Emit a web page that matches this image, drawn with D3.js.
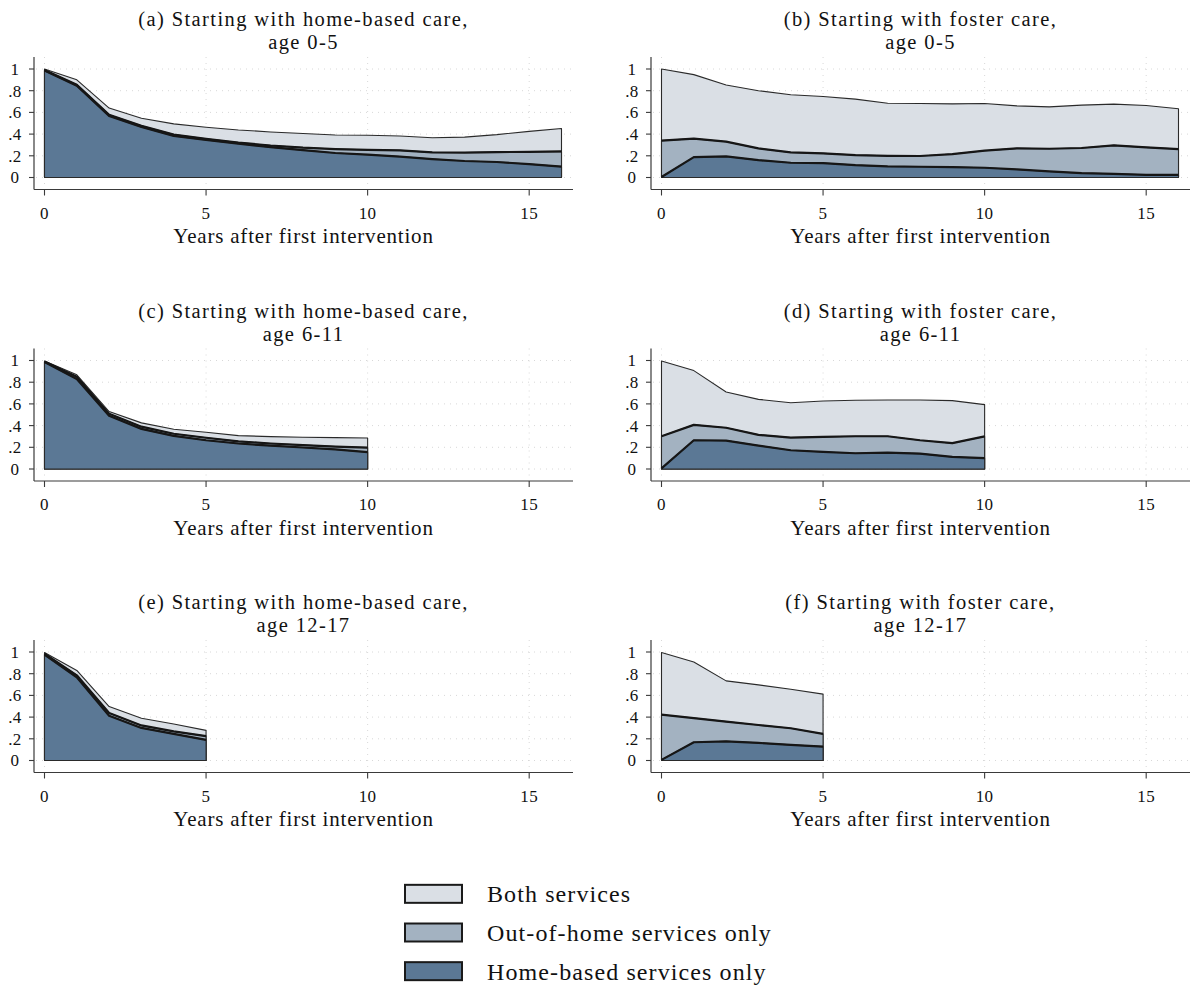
<!DOCTYPE html>
<html>
<head>
<meta charset="utf-8">
<script src="https://cdn.jsdelivr.net/npm/d3@7"></script>
<style>
  html, body { margin: 0; padding: 0; background: #fff; }
  svg { display: block; }
  text { font-family: "Liberation Serif", "Times New Roman", serif; fill: #111; }
</style>
</head>
<body>
<svg id="chart" width="1192" height="985"></svg>
<script>
// Shares of children receiving each type of service, by years after first intervention
const yearsLong = d3.range(0, 17);
const yearsMid = d3.range(0, 11);
const yearsShort = d3.range(0, 6);

// (a) home-based start, age 0-5
const homeA = [0.985, 0.845, 0.568, 0.466, 0.383, 0.346, 0.312, 0.280, 0.252, 0.226, 0.210, 0.193, 0.170, 0.152, 0.143, 0.123, 0.100];
const outA  = [0.005, 0.010, 0.010, 0.010, 0.012, 0.011, 0.010, 0.015, 0.023, 0.036, 0.045, 0.057, 0.062, 0.078, 0.091, 0.114, 0.140];
const bothA = [0.010, 0.045, 0.062, 0.070, 0.099, 0.106, 0.116, 0.125, 0.130, 0.130, 0.135, 0.133, 0.134, 0.142, 0.161, 0.188, 0.212];

// (b) foster care start, age 0-5
const homeB = [0.005, 0.188, 0.194, 0.160, 0.136, 0.133, 0.114, 0.102, 0.099, 0.096, 0.090, 0.074, 0.056, 0.040, 0.034, 0.025, 0.025];
const outB  = [0.335, 0.170, 0.136, 0.108, 0.095, 0.089, 0.093, 0.098, 0.099, 0.120, 0.157, 0.194, 0.209, 0.232, 0.262, 0.253, 0.237];
const bothB = [0.660, 0.590, 0.522, 0.532, 0.531, 0.525, 0.515, 0.485, 0.484, 0.463, 0.435, 0.392, 0.386, 0.395, 0.380, 0.386, 0.371];

// (c) home-based start, age 6-11
const homeC = [0.985, 0.830, 0.490, 0.370, 0.305, 0.265, 0.235, 0.215, 0.198, 0.180, 0.155];
const outC  = [0.005, 0.020, 0.020, 0.020, 0.020, 0.023, 0.020, 0.020, 0.022, 0.027, 0.042];
const bothC = [0.005, 0.018, 0.020, 0.035, 0.041, 0.050, 0.053, 0.063, 0.072, 0.082, 0.089];

// (d) foster care start, age 6-11
const homeD = [0.006, 0.265, 0.262, 0.216, 0.173, 0.157, 0.145, 0.151, 0.142, 0.111, 0.100];
const outD  = [0.296, 0.142, 0.118, 0.099, 0.117, 0.139, 0.157, 0.151, 0.123, 0.127, 0.200];
const bothD = [0.693, 0.500, 0.330, 0.327, 0.321, 0.331, 0.331, 0.334, 0.371, 0.392, 0.293];

// (e) home-based start, age 12-17
const homeE = [0.975, 0.766, 0.413, 0.300, 0.245, 0.190];
const outE  = [0.010, 0.019, 0.024, 0.023, 0.023, 0.035];
const bothE = [0.010, 0.045, 0.060, 0.067, 0.068, 0.053];

// (f) foster care start, age 12-17
const homeF = [0.006, 0.168, 0.177, 0.162, 0.144, 0.128];
const outF  = [0.416, 0.223, 0.181, 0.165, 0.153, 0.117];
const bothF = [0.573, 0.517, 0.376, 0.370, 0.360, 0.367];

const panelTitles = [
  ["(a) Starting with home-based care,", "age 0-5"],
  ["(b) Starting with foster care,", "age 0-5"],
  ["(c) Starting with home-based care,", "age 6-11"],
  ["(d) Starting with foster care,", "age 6-11"],
  ["(e) Starting with home-based care,", "age 12-17"],
  ["(f) Starting with foster care,", "age 12-17"]
];
const xTicks = [0, 5, 10, 15];
const yTicks = [0, 0.2, 0.4, 0.6, 0.8, 1];
const yTickLabels = ["0", ".2", ".4", ".6", ".8", "1"];
const xTitle = "Years after first intervention";
const seriesKeys = ["home", "out", "both"];
const seriesLabels = {
  both: "Both services",
  out: "Out-of-home services only",
  home: "Home-based services only"
};
const legendOrder = ["both", "out", "home"];

const colors = { home: "#5b7895", out: "#a3b2c1", both: "#dadfe5" };

const panels = [
  { years: yearsLong,  home: homeA, out: outA, both: bothA },
  { years: yearsLong,  home: homeB, out: outB, both: bothB },
  { years: yearsMid,   home: homeC, out: outC, both: bothC },
  { years: yearsMid,   home: homeD, out: outD, both: bothD },
  { years: yearsShort, home: homeE, out: outE, both: bothE },
  { years: yearsShort, home: homeF, out: outF, both: bothF }
];

const svg = d3.select("#chart");

const colOffset = 617;
const rowOffset = 291.5;

panels.forEach((p, i) => {
  const col = i % 2, row = Math.floor(i / 2);
  const dx = col * colOffset, dy = row * rowOffset;
  const axisLeft = 34 + dx, axisRight = 573 + dx;
  const axisBottom = 189.5 + dy, axisTop = 57 + dy;

  const x = d3.scaleLinear().domain([0, 16]).range([44.5 + dx, 561.5 + dx]);
  const y = d3.scaleLinear().domain([0, 1]).range([177.5 + dy, 69 + dy]);

  const g = svg.append("g");

  // dotted grid
  g.selectAll(".hgrid").data(yTicks).join("line")
    .attr("x1", axisLeft + 2).attr("x2", axisRight)
    .attr("y1", d => y(d)).attr("y2", d => y(d))
    .attr("stroke", "#d8d8d8").attr("stroke-width", 1)
    .attr("stroke-dasharray", "1,5");
  g.selectAll(".vgrid").data(xTicks).join("line")
    .attr("x1", d => x(d)).attr("x2", d => x(d))
    .attr("y1", axisTop).attr("y2", axisBottom - 2)
    .attr("stroke", "#d8d8d8").attr("stroke-width", 1)
    .attr("stroke-dasharray", "1,5");

  // stacked areas
  const rows = p.years.map((t, k) => ({ t, home: p.home[k], out: p.out[k], both: p.both[k] }));
  const stacked = d3.stack().keys(seriesKeys)(rows);

  // draw from the top layer down, each as a filled polygon from the baseline
  const drawOrder = ["both", "out", "home"];
  drawOrder.forEach(key => {
    const layer = stacked.find(s => s.key === key);
    const area = d3.area()
      .x(d => x(d.data.t))
      .y0(() => y(0))
      .y1(d => y(d[1]));
    g.append("path")
      .datum(layer)
      .attr("d", area)
      .attr("fill", colors[key])
      .attr("stroke", "#2a2a2a")
      .attr("stroke-width", 1.1)
      .attr("stroke-linejoin", "round");
  });

  // heavier boundary lines for the lower two layers
  ["out", "home"].forEach(key => {
    const layer = stacked.find(s => s.key === key);
    const line = d3.line().x(d => x(d.data.t)).y(d => y(d[1]));
    g.append("path")
      .datum(layer)
      .attr("d", line)
      .attr("fill", "none")
      .attr("stroke", "#161616")
      .attr("stroke-width", 2.2)
      .attr("stroke-linejoin", "round");
  });

  // axes
  const axisColor = "#3a3a3a";
  g.append("line").attr("x1", axisLeft).attr("x2", axisLeft)
    .attr("y1", axisTop).attr("y2", axisBottom)
    .attr("stroke", axisColor).attr("stroke-width", 1.2);
  g.append("line").attr("x1", axisLeft).attr("x2", axisRight)
    .attr("y1", axisBottom).attr("y2", axisBottom)
    .attr("stroke", axisColor).attr("stroke-width", 1.2);

  g.selectAll(".ytick").data(yTicks).join("line")
    .attr("x1", axisLeft - 5).attr("x2", axisLeft)
    .attr("y1", d => y(d)).attr("y2", d => y(d))
    .attr("stroke", axisColor).attr("stroke-width", 1.1);
  g.selectAll(".ylab").data(yTicks).join("text")
    .attr("x", 15 + dx).attr("y", d => y(d))
    .attr("dy", "0.35em")
    .attr("text-anchor", "middle")
    .attr("font-size", 17)
    .attr("letter-spacing", 0.4)
    .text((d, k) => yTickLabels[k]);

  g.selectAll(".xtick").data(xTicks).join("line")
    .attr("x1", d => x(d)).attr("x2", d => x(d))
    .attr("y1", axisBottom).attr("y2", axisBottom + 6)
    .attr("stroke", axisColor).attr("stroke-width", 1.1);
  g.selectAll(".xlab").data(xTicks).join("text")
    .attr("x", d => x(d)).attr("y", 213 + dy)
    .attr("dy", "0.35em")
    .attr("text-anchor", "middle")
    .attr("font-size", 17)
    .attr("letter-spacing", 0.4)
    .text(d => d);

  const cx = (axisLeft + axisRight) / 2;
  g.append("text")
    .attr("x", cx).attr("y", 236 + dy).attr("dy", "0.35em")
    .attr("text-anchor", "middle").attr("font-size", 21)
    .attr("letter-spacing", 0.8)
    .text(xTitle);

  g.append("text")
    .attr("x", cx).attr("y", 19 + dy).attr("dy", "0.35em")
    .attr("text-anchor", "middle").attr("font-size", 20.5)
    .attr("letter-spacing", 1.4)
    .text(panelTitles[i][0]);
  g.append("text")
    .attr("x", cx).attr("y", 42 + dy).attr("dy", "0.35em")
    .attr("text-anchor", "middle").attr("font-size", 20.5)
    .attr("letter-spacing", 1.4)
    .text(panelTitles[i][1]);
});

// legend
const legend = svg.append("g");
const legendY = d3.scaleBand().domain(legendOrder).range([875, 991]).paddingInner(0);
legendOrder.forEach(key => {
  const cy = legendY(key) + legendY.bandwidth() / 2 - 0.5;
  legend.append("rect")
    .attr("x", 405).attr("y", cy - 9)
    .attr("width", 57).attr("height", 18)
    .attr("fill", colors[key])
    .attr("stroke", "#1a1a1a").attr("stroke-width", 2);
  legend.append("text")
    .attr("x", 487).attr("y", cy).attr("dy", "0.35em")
    .attr("font-size", 24)
    .attr("letter-spacing", 1.1)
    .text(seriesLabels[key]);
});
</script>
</body>
</html>
